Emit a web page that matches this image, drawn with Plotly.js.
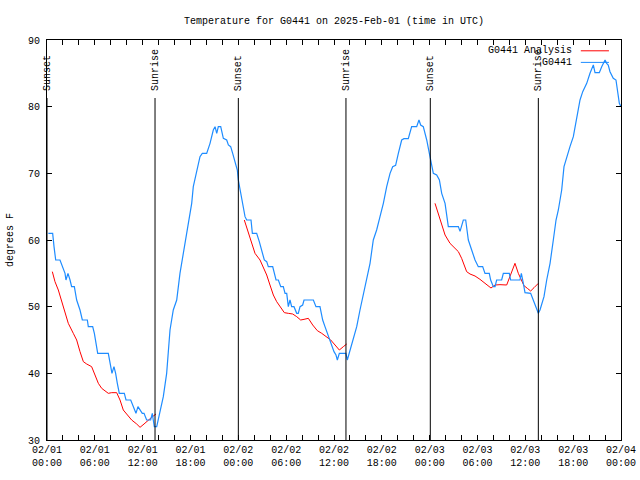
<!DOCTYPE html>
<html>
<head>
<meta charset="utf-8">
<script src="https://cdn.plot.ly/plotly-3.0.1.min.js"></script>
<style>html,body{margin:0;padding:0;background:#fff;}#chart{width:640px;height:480px;}</style>
</head>
<body>
<div id="chart"></div>
<script>
// Hours since 2025-02-01 00:00 UTC
const obsHours = [0.17,0.71,0.88,1.09,1.63,1.92,2.26,2.38,2.63,2.89,3.09,3.43,3.72,4.14,4.43,5.06,5.18,5.73,5.94,6.15,6.36,7.69,7.9,8.15,8.4,8.61,8.82,9.07,9.7,9.91,10.5,10.83,11.16,11.41,11.67,11.95,12.17,12.5,13.0,13.21,13.33,13.46,13.76,14.17,14.59,15.01,15.22,15.43,15.84,16.27,16.68,17.1,17.52,18.15,18.35,18.78,19.19,19.48,20.03,20.45,20.86,21.08,21.29,21.49,21.79,
22.12,22.54,22.75,23.04,23.29,23.58,23.87,24.0,24.21,24.42,24.63,24.84,25.05,25.59,25.76,26.3,26.63,26.93,27.26,27.56,27.76,28.31,28.73,29.02,29.32,29.64,29.86,30.07,30.27,30.48,30.69,30.98,31.32,31.52,31.74,32.07,32.24,33.41,33.74,34.24,34.58,34.87,35.16,35.41,35.71,36.0,36.25,36.42,36.67,37.5,37.67,38.0,38.43,38.85,39.26,39.68,40.1,40.52,40.93,41.35,41.77,42.19,42.61,43.03,43.36,43.73,44.07,44.49,44.78,45.32,45.74,46.37,46.66,46.87,47.2,47.63,47.96,48.25,48.46,48.88,49.22,49.51,49.93,50.34,51.6,51.81,52.22,52.52,52.64,52.85,53.27,53.69,54.1,54.65,54.94,55.48,55.65,55.99,56.2,56.4,57.03,57.24,57.99,58.16,59.33,59.5,59.75,59.96,60.67,61.0,61.34,61.63,61.84,62.34,62.68,63.1,63.51,63.85,64.14,64.56,64.85,65.19,65.6,66.02,66.44,66.86,67.2,67.7,68.11,68.53,68.74,69.28,69.58,70.0,70.2,70.4,70.62,71.03,71.37,71.54,71.79,72.0];
const obsTemps = [61,61,59,57,57,56,55,54,55,54,53,53,51,49.5,48,48,47,47,46,44.5,43,43,41.5,40,41,40,38.5,37,37,36,36,35,34,35,34.5,34,34,33,33,34,33,32,32,34,36.5,40,43,46.5,49.5,51,55,58,61.5,65.5,68,70.5,72.5,73,73,74.5,76.5,77,76,77,77,
75.25,75,74.25,74,73,71.75,70.5,69,67.5,66,64.5,63.5,63,63,61,61,59.75,58.5,57,56.75,56,56,54,54,53,53,52,52,50,51,50,50,49,49,50,50.25,51,51,50,50,48,47,46,45,44,43.25,42.75,42,43,43,42,43.5,45.5,47,49.5,52,54.5,56.5,60,61.5,63.5,65.5,68,70,71,71.2,73,75,75.2,75.2,77,77,78,77.25,77,75,73,71.5,70,69.75,69,67,65.5,62,62,61.3,63,63,61.5,60,58.5,57,56,56,55,55,54,53,53,54,54,55,55,54,54,55,53.5,52.1,52,51,49.75,49,49.5,51.5,54,56.5,60,63,64.5,67.5,71,72.5,74,75.5,78,81,82.25,83.5,85,86.25,85.1,85.1,86,87,86.5,86.25,85.25,84.25,84,82.5,80.5,80];

const anaHours = [0.67,1.0,1.42,1.84,2.26,2.67,3.3,3.72,4.14,4.56,4.98,5.6,6.02,6.44,6.86,7.28,7.69,8.11,8.74,9.16,9.57,9.99,10.62,11.25,11.67,12.17,12.71,13.13,13.67,
null,
24.75,25.25,25.68,26.09,26.72,27.13,27.56,27.97,28.39,28.81,29.23,29.77,30.27,30.82,31.32,31.82,32.24,32.78,33.33,33.91,34.46,35.08,35.59,36.13,36.67,37.17,37.59,
null,
48.67,49.09,49.51,49.93,50.55,51.18,51.6,52.01,52.64,53.06,53.69,54.31,54.94,55.36,55.69,56.2,56.82,57.66,58.2,58.7,59.12,59.54,59.83,60.25,60.67,61.09,61.63];
const anaTemps = [55.25,53.75,52.5,50.75,49,47.5,46,45,43.25,41.75,41.4,41,39.75,38.5,37.75,37.4,37,37.1,37.1,36,34.5,33.9,33,32.4,31.9,32.4,33,33.4,33.9,
null,
63,61,59.5,58,57,56,54.75,53.25,51.75,50.75,50,49.1,49,48.9,48.5,48,48.1,48.25,47.25,46.4,46,45.5,45,44.25,43.5,44,44.4,
null,
65.5,64,62.5,60.75,59.5,58.75,58.25,57.25,55.25,54.9,54.6,54.1,53.5,53.15,52.8,53.25,53.3,53.25,55,56.5,55,54,53.15,52.75,52.35,52.85,53.5];

const sunsetHours = [0, 24.0, 48.08];
const sunriseHours = [13.55, 37.5, 61.63];

const tickHours = [0,6,12,18,24,30,36,42,48,54,60,66,72];
const tickLabels = ["02/01<br>00:00","02/01<br>06:00","02/01<br>12:00","02/01<br>18:00","02/02<br>00:00","02/02<br>06:00","02/02<br>12:00","02/02<br>18:00","02/03<br>00:00","02/03<br>06:00","02/03<br>12:00","02/03<br>18:00","02/04<br>00:00"];

const seriesNames = ["G0441 Analysis", "G0441"];
const seriesColors = ["#ff0000", "#1e8cff"];

const FONT = {family: "Liberation Mono, DejaVu Sans Mono, monospace", size: 10, color: "#000"};

const traces = [
  {x: anaHours, y: anaTemps, type: "scatter", mode: "lines", name: seriesNames[0],
   line: {color: seriesColors[0], width: 1}, connectgaps: false, hoverinfo: "skip"},
  {x: obsHours, y: obsTemps, type: "scatter", mode: "lines", name: seriesNames[1],
   line: {color: seriesColors[1], width: 1.2}, hoverinfo: "skip"}
];

const shapes = [];
const annotations = [];
const lineTop = 81.3, labelBottom = 82.2;
sunsetHours.forEach(h => {
  shapes.push({type: "line", xref: "x", yref: "y", x0: h, x1: h, y0: 30, y1: lineTop, line: {color: "#000", width: 1}});
  annotations.push({x: h, y: labelBottom, xref: "x", yref: "y", text: "Sunset", textangle: -90, showarrow: false, xanchor: "center", yanchor: "bottom", font: FONT, borderpad: 0});
});
sunriseHours.forEach(h => {
  shapes.push({type: "line", xref: "x", yref: "y", x0: h, x1: h, y0: 30, y1: lineTop, line: {color: "#000", width: 1}});
  annotations.push({x: h, y: labelBottom, xref: "x", yref: "y", text: "Sunrise", textangle: -90, showarrow: false, xanchor: "center", yanchor: "bottom", font: FONT, borderpad: 0});
});
// legend (text on the left of the sample line)
const legY = [0.973, 0.944];
seriesNames.forEach((n, i) => {
  annotations.push({x: 0.9164, y: legY[i], xref: "paper", yref: "paper", text: n, showarrow: false, xanchor: "right", yanchor: "middle", font: FONT, borderpad: 0});
  shapes.push({type: "line", xref: "paper", yref: "paper", x0: 0.930, x1: 0.979, y0: legY[i], y1: legY[i], line: {color: seriesColors[i], width: 1}});
});

const layout = {
  width: 640, height: 480,
  margin: {l: 47, r: 19, t: 40, b: 40, pad: 0},
  paper_bgcolor: "#fff", plot_bgcolor: "#fff",
  showlegend: false,
  font: FONT,
  title: {text: "Temperature for G0441 on 2025-Feb-01 (time in UTC)", font: FONT, x: 0.5, xref: "paper", xanchor: "center", y: 0.958, yanchor: "middle"},
  xaxis: {range: [0, 72], tickvals: tickHours, ticktext: tickLabels, ticks: "inside", ticklen: 5, tickcolor: "#000",
          showline: true, linecolor: "#000", linewidth: 1, mirror: "allticks", showgrid: false, zeroline: false,
          minor: {dtick: 2, tick0: 0, ticks: "inside", ticklen: 5, tickcolor: "#000", showgrid: false},
          tickfont: FONT, fixedrange: true},
  yaxis: {range: [30, 90], dtick: 10, tick0: 30, ticks: "inside", ticklen: 5, tickcolor: "#000",
          showline: true, linecolor: "#000", linewidth: 1, mirror: "allticks", showgrid: false, zeroline: false,
          ticklabelstandoff: 4,
          tickfont: FONT, title: {text: "degrees F", font: FONT, standoff: 12}, fixedrange: true},
  shapes: shapes,
  annotations: annotations
};

Plotly.newPlot("chart", traces, layout, {staticPlot: true, displayModeBar: false});
</script>
</body>
</html>
